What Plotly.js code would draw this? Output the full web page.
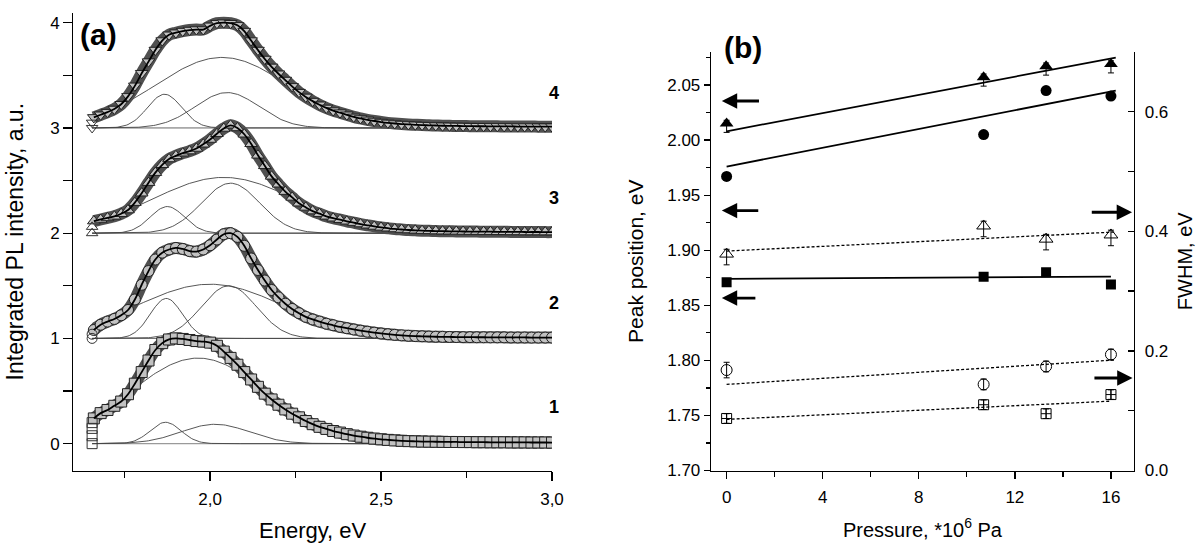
<!DOCTYPE html>
<html>
<head>
<meta charset="utf-8">
<script src="https://cdn.plot.ly/plotly-3.0.1.min.js"></script>
<style>
html,body{margin:0;padding:0;background:#ffffff;}
#chart{width:1196px;height:543px;}
</style>
</head>
<body>
<div id="chart"></div>
<script>
// ---------------- Panel (a): integrated PL spectra (offset by 1 each) ----------------
const energy = [1.66,1.68,1.70,1.72,1.74,1.76,1.78,1.80,1.82,1.84,1.86,1.88,1.90,1.92,1.94,1.96,1.98,2.00,
  2.02,2.04,2.06,2.08,2.10,2.12,2.14,2.16,2.18,2.20,2.22,2.24,2.26,2.28,2.30,2.32,2.34,2.36,2.38,2.40,2.42,2.44,
  2.46,2.48,2.50,2.52,2.54,2.56,2.58,2.60,2.62,2.64,2.66,2.68,2.70,2.72,2.74,2.76,2.78,2.80,2.82,2.84,2.86,2.88,
  2.90,2.92,2.94,2.96,2.98,3.00];

const spec1 = [0.24,0.29,0.32,0.36,0.40,0.47,0.57,0.68,0.79,0.89,0.955,0.99,1.0,0.995,0.985,0.975,0.97,0.96,
  0.93,0.875,0.815,0.75,0.68,0.61,0.54,0.475,0.42,0.37,0.325,0.285,0.25,0.215,0.185,0.16,0.14,0.12,0.105,0.09,
  0.077,0.066,0.056,0.048,0.041,0.036,0.031,0.027,0.024,0.022,0.02,0.019,0.018,0.017,0.016,0.016,0.015,0.015,
  0.014,0.014,0.013,0.013,0.013,0.012,0.012,0.012,0.011,0.011,0.011,0.01];
const spec2 = [0.08,0.13,0.16,0.185,0.22,0.27,0.37,0.51,0.64,0.75,0.815,0.845,0.86,0.85,0.83,0.825,0.845,0.885,
  0.94,0.99,1.0,0.965,0.88,0.76,0.65,0.55,0.46,0.39,0.33,0.28,0.24,0.205,0.18,0.16,0.14,0.125,0.11,0.097,
  0.085,0.074,0.064,0.055,0.047,0.04,0.034,0.029,0.025,0.022,0.02,0.018,0.016,0.015,0.014,0.013,0.012,0.012,
  0.011,0.011,0.01,0.01,0.01,0.009,0.009,0.009,0.008,0.008,0.008,0.008];
const spec3 = [0.115,0.13,0.145,0.16,0.185,0.22,0.29,0.38,0.48,0.575,0.65,0.705,0.735,0.76,0.78,0.805,0.845,0.89,
  0.945,0.995,1.025,1.0,0.94,0.85,0.74,0.64,0.54,0.465,0.395,0.34,0.285,0.245,0.21,0.185,0.16,0.142,0.128,0.113,
  0.1,0.087,0.075,0.064,0.055,0.047,0.04,0.035,0.03,0.027,0.024,0.022,0.02,0.019,0.018,0.017,0.016,0.015,
  0.015,0.014,0.014,0.013,0.013,0.012,0.012,0.011,0.011,0.011,0.01,0.01];
const spec4 = [0.10,0.125,0.15,0.18,0.225,0.30,0.40,0.52,0.63,0.74,0.83,0.885,0.905,0.92,0.93,0.935,0.935,0.97,
  0.995,1.0,0.995,0.975,0.92,0.83,0.74,0.655,0.58,0.515,0.455,0.395,0.34,0.295,0.255,0.22,0.19,0.165,0.145,0.125,
  0.105,0.09,0.077,0.066,0.056,0.048,0.042,0.037,0.033,0.03,0.027,0.025,0.023,0.021,0.02,0.019,0.018,0.017,
  0.016,0.016,0.015,0.015,0.014,0.014,0.013,0.013,0.013,0.012,0.012,0.012];

const spectra = [spec1, spec2, spec3, spec4];
const offsets = [0, 1, 2, 3];
const spectrumLabels = ['1', '2', '3', '4'];
const spectrumSymbols = ['square', 'circle', 'triangle-up', 'triangle-down'];

// first recorded points (stacked at the low-energy edge)
const startEnergy = 1.655;
const startValues = [[0, 0.075, 0.145, 0.2], [0, 0.04], [0, 0.06], [0, 0.05]];

// Gaussian decomposition of each spectrum (centre eV, sigma eV, amplitude)
const compCenters = [[1.870, 1.965, 2.015], [1.872, 2.000, 2.055], [1.875, 2.040, 2.060], [1.867, 2.035, 2.050]];
const compSigmas  = [[0.045, 0.200, 0.100], [0.047, 0.215, 0.080], [0.050, 0.210, 0.085], [0.050, 0.195, 0.093]];
const compAmps    = [[0.203, 0.813, 0.184], [0.380, 0.515, 0.500], [0.253, 0.530, 0.475], [0.320, 0.670, 0.336]];

// ---------------- Panel (b): peak positions and FWHM vs pressure ----------------
const pressure = [0, 10.7, 13.3, 16];
const posTriangle = [2.015, 2.057, 2.067, 2.069];   // filled triangles, left axis
const posCircle   = [1.967, 2.005, 2.045, 2.040];   // filled circles, left axis
const posSquare   = [1.871, 1.876, 1.880, 1.869];   // filled squares, left axis
const fwhmTriangle = [0.362, 0.409, 0.387, 0.394];  // open triangles, right axis
const fwhmCircle   = [0.168, 0.144, 0.174, 0.194];  // open circles, right axis
const fwhmSquare   = [0.087, 0.110, 0.095, 0.127];  // open squares, right axis
const errPosUp       = [0.003, 0.003, 0.003, 0.003];
const errPosDown     = [0.008, 0.008, 0.008, 0.008];
const errFwhmTriUp   = [0.008, 0.008, 0.008, 0.008];
const errFwhmTriDown = [0.018, 0.018, 0.018, 0.018];
const errFwhmCircle  = [0.013, 0.009, 0.009, 0.009];
const errFwhmSquare  = [0.008, 0.008, 0.008, 0.008];

// linear fits (start / end values)
const fitTriP = [0, 16.2],  fitTri = [2.008, 2.075];
const fitCirP = [0, 16.2],  fitCir = [1.976, 2.045];
const fitSqP  = [0, 16],    fitSq  = [1.874, 1.876];
const fitOTriP = [0, 16.2], fitOTri = [0.367, 0.399];
const fitOCirP = [0, 16.2], fitOCir = [0.144, 0.185];
const fitOSqP  = [0, 16],   fitOSq  = [0.0855, 0.116];

const leftTicks = [1.70, 1.75, 1.80, 1.85, 1.90, 1.95, 2.00, 2.05];
const rightTicks = [0, 0.2, 0.4, 0.6];
const pressureTicks = [0, 4, 8, 12, 16];
const energyTicks = [2.0, 2.5, 3.0];
const energyTickText = ['2,0', '2,5', '3,0'];

// ---------------- build traces ----------------
const FONT = 'Liberation Sans, Arial, Helvetica, sans-serif';
const traces = [];

// drawing grid for the fitted Gaussian components
const grid = [];
for (let i = 0; i <= 269; i++) grid.push(1.655 + i * 0.005);

spectra.forEach((s, k) => {
  const off = offsets[k];
  traces.push({
    x: [grid[0], grid[grid.length - 1]], y: [off, off],
    xaxis: 'x', yaxis: 'y', mode: 'lines', hoverinfo: 'skip', showlegend: false,
    line: {color: k === 0 ? '#9a9a9a' : '#555555', width: k === 0 ? 1.4 : 0.9}
  });
  for (let j = 0; j < 3; j++) {
    const c = compCenters[k][j], sg = compSigmas[k][j], a = compAmps[k][j];
    traces.push({
      x: grid, y: grid.map(e => off + a * Math.exp(-((e - c) * (e - c)) / (2 * sg * sg))),
      xaxis: 'x', yaxis: 'y', mode: 'lines', hoverinfo: 'skip', showlegend: false,
      line: {color: '#444444', width: 0.9}
    });
  }
});

spectra.forEach((s, k) => {
  const off = offsets[k];
  const yv = s.map(v => v + off);
  traces.push({
    x: energy, y: yv, xaxis: 'x', yaxis: 'y', mode: 'lines', showlegend: false, hoverinfo: 'skip',
    line: {color: '#505050', width: 12, shape: 'spline'}
  });
  traces.push({
    x: energy, y: yv, xaxis: 'x', yaxis: 'y', mode: 'markers', showlegend: false,
    marker: {symbol: spectrumSymbols[k], size: 11, color: '#c2c2c2', line: {color: '#222222', width: 1}}
  });
  traces.push({
    x: startValues[k].map(() => startEnergy), y: startValues[k].map(v => v + off),
    xaxis: 'x', yaxis: 'y', mode: 'markers', showlegend: false,
    marker: {symbol: spectrumSymbols[k] + '-open', size: 10, color: '#333333', line: {width: 1}}
  });
  traces.push({
    x: energy, y: yv, xaxis: 'x', yaxis: 'y', mode: 'lines', showlegend: false, hoverinfo: 'skip',
    line: {color: '#000000', width: 1.8, shape: 'spline'}
  });
});

// panel (b) fits
const solid = {color: '#000', width: 1.8};
const dotted = {color: '#000', width: 1.3, dash: '3px,2px'};
traces.push({x: fitTriP, y: fitTri, xaxis: 'x2', yaxis: 'y2', mode: 'lines', line: solid, showlegend: false});
traces.push({x: fitCirP, y: fitCir, xaxis: 'x2', yaxis: 'y2', mode: 'lines', line: solid, showlegend: false});
traces.push({x: fitSqP, y: fitSq, xaxis: 'x2', yaxis: 'y2', mode: 'lines', line: solid, showlegend: false});
traces.push({x: fitOTriP, y: fitOTri, xaxis: 'x2', yaxis: 'y3', mode: 'lines', line: dotted, showlegend: false});
traces.push({x: fitOCirP, y: fitOCir, xaxis: 'x2', yaxis: 'y3', mode: 'lines', line: dotted, showlegend: false});
traces.push({x: fitOSqP, y: fitOSq, xaxis: 'x2', yaxis: 'y3', mode: 'lines', line: dotted, showlegend: false});

function errb(up, down) {
  return {type: 'data', array: up, arrayminus: down || up, symmetric: !down, visible: true, color: '#000', thickness: 1, width: 3};
}
traces.push({x: pressure, y: posTriangle, xaxis: 'x2', yaxis: 'y2', mode: 'markers', showlegend: false,
  error_y: errb(errPosUp, errPosDown), marker: {symbol: 'triangle-up', size: 12, color: '#000'}});
traces.push({x: pressure, y: posCircle, xaxis: 'x2', yaxis: 'y2', mode: 'markers', showlegend: false,
  marker: {symbol: 'circle', size: 11, color: '#000'}});
traces.push({x: pressure, y: posSquare, xaxis: 'x2', yaxis: 'y2', mode: 'markers', showlegend: false,
  marker: {symbol: 'square', size: 10, color: '#000'}});
traces.push({x: pressure, y: fwhmTriangle, xaxis: 'x2', yaxis: 'y3', mode: 'markers', showlegend: false,
  error_y: errb(errFwhmTriUp, errFwhmTriDown), marker: {symbol: 'triangle-up-open', size: 12, color: '#000', line: {width: 1}}});
traces.push({x: pressure, y: fwhmCircle, xaxis: 'x2', yaxis: 'y3', mode: 'markers', showlegend: false,
  error_y: errb(errFwhmCircle), marker: {symbol: 'circle-open', size: 11, color: '#000', line: {width: 1}}});
traces.push({x: pressure, y: fwhmSquare, xaxis: 'x2', yaxis: 'y3', mode: 'markers', showlegend: false,
  error_y: errb(errFwhmSquare), marker: {symbol: 'square-cross-open', size: 10, color: '#000', line: {width: 1}}});

// ---------------- layout ----------------
const axisCommon = {
  showline: true, linecolor: '#000', linewidth: 1.3, showgrid: false, zeroline: false,
  ticks: 'outside', tickcolor: '#000', tickwidth: 1.3, automargin: false,
  tickfont: {family: FONT, size: 17, color: '#000'}
};

function arrow(x, y, ax, ay) {
  return {x: x, y: y, ax: ax, ay: ay, xref: 'x2', yref: 'y2', axref: 'x2', ayref: 'y2', text: '',
    showarrow: true, arrowhead: 2, arrowsize: 1.1, arrowwidth: 2.8, arrowcolor: '#000', standoff: 0, startstandoff: 0};
}

const labelAnnotations = spectrumLabels.map((t, k) => ({
  text: '<b>' + t + '</b>', xref: 'paper', yref: 'y', x: 554 / 1196, y: offsets[k] + [0.35, 0.335, 0.33, 0.33][k],
  xanchor: 'center', yanchor: 'middle', showarrow: false, font: {family: FONT, size: 18, color: '#000'}
}));

const layout = {
  width: 1196, height: 543,
  margin: {l: 0, r: 0, t: 0, b: 0},
  paper_bgcolor: '#fff', plot_bgcolor: 'rgba(0,0,0,0)',
  showlegend: false,
  font: {family: FONT, color: '#000'},
  xaxis: Object.assign({}, axisCommon, {
    domain: [73.3 / 1196, 552 / 1196], range: [1.6, 3.0], anchor: 'y',
    tickmode: 'array', tickvals: energyTicks, ticktext: energyTickText, ticklen: 9, ticklabelstandoff: 4,
    minor: {tickmode: 'array', tickvals: [1.75, 2.25, 2.75], ticks: 'outside', ticklen: 6, tickcolor: '#000', tickwidth: 1.3},
    title: {text: 'Energy, eV', font: {family: FONT, size: 22, color: '#000'}, standoff: 14}
  }),
  yaxis: Object.assign({}, axisCommon, {
    domain: [72.3 / 543, 530.3 / 543], range: [-0.257, 4.095], anchor: 'x',
    tickmode: 'array', tickvals: [0, 1, 2, 3, 4], ticklen: 9,
    minor: {tickmode: 'array', tickvals: [0.5, 1.5, 2.5, 3.5], ticks: 'outside', ticklen: 9, tickcolor: '#000', tickwidth: 1.3},
    title: {text: 'Integrated PL intensity, a.u.', font: {family: FONT, size: 23, color: '#000'}, standoff: 20}
  }),
  xaxis2: Object.assign({}, axisCommon, {
    domain: [711 / 1196, 1134 / 1196], range: [-0.65, 16.96], anchor: 'y2',
    tickmode: 'array', tickvals: pressureTicks, ticklen: 7, ticklabelstandoff: 4,
    minor: {tickmode: 'array', tickvals: [2, 6, 10, 14], ticks: 'outside', ticklen: 5, tickcolor: '#000', tickwidth: 1.3},
    title: {text: 'Pressure, *10<sup>6</sup> Pa', font: {family: FONT, size: 20, color: '#000'}, standoff: 16}
  }),
  yaxis2: Object.assign({}, axisCommon, {
    domain: [72.5 / 543, 491 / 543], range: [1.70, 2.08], anchor: 'x2',
    tickmode: 'array', tickvals: leftTicks, tickformat: '.2f', ticklen: 6,
    minor: {tickmode: 'array', tickvals: [1.725, 1.775, 1.825, 1.875, 1.925, 1.975, 2.025, 2.075], ticks: 'outside', ticklen: 4, tickcolor: '#000', tickwidth: 1.3},
    title: {text: 'Peak position, eV', font: {family: FONT, size: 21, color: '#000'}, standoff: 18}
  }),
  yaxis3: Object.assign({}, axisCommon, {
    overlaying: 'y2', side: 'right', anchor: 'x2', range: [0, 0.70],
    tickmode: 'array', tickvals: rightTicks, tickformat: '.1f', ticks: 'inside', ticklen: 6, ticklabelstandoff: 6,
    minor: {tickmode: 'array', tickvals: [0.1, 0.3, 0.5, 0.7], ticks: 'inside', ticklen: 6, tickcolor: '#000', tickwidth: 1.3},
    title: {text: 'FWHM, eV', font: {family: FONT, size: 20, color: '#000'}, standoff: 16}
  }),
  annotations: [
    {text: '<b>(a)</b>', xref: 'paper', yref: 'paper', x: 98 / 1196, y: 1 - 34 / 543, xanchor: 'center', yanchor: 'middle',
      showarrow: false, font: {family: FONT, size: 30, color: '#000'}},
    {text: '<b>(b)</b>', xref: 'paper', yref: 'paper', x: 743 / 1196, y: 1 - 47 / 543, xanchor: 'center', yanchor: 'middle',
      showarrow: false, font: {family: FONT, size: 30, color: '#000'}},
    arrow(-0.2, 2.0355, 1.41, 2.0355),
    arrow(-0.2, 1.936, 1.38, 1.936),
    arrow(-0.2, 1.8566, 1.26, 1.8566),
    arrow(16.88, 1.9345, 15.14, 1.9345),
    arrow(16.9, 1.784, 15.25, 1.784)
  ].concat(labelAnnotations)
};

Plotly.newPlot('chart', traces, layout, {staticPlot: true, displayModeBar: false});
</script>
</body>
</html>
